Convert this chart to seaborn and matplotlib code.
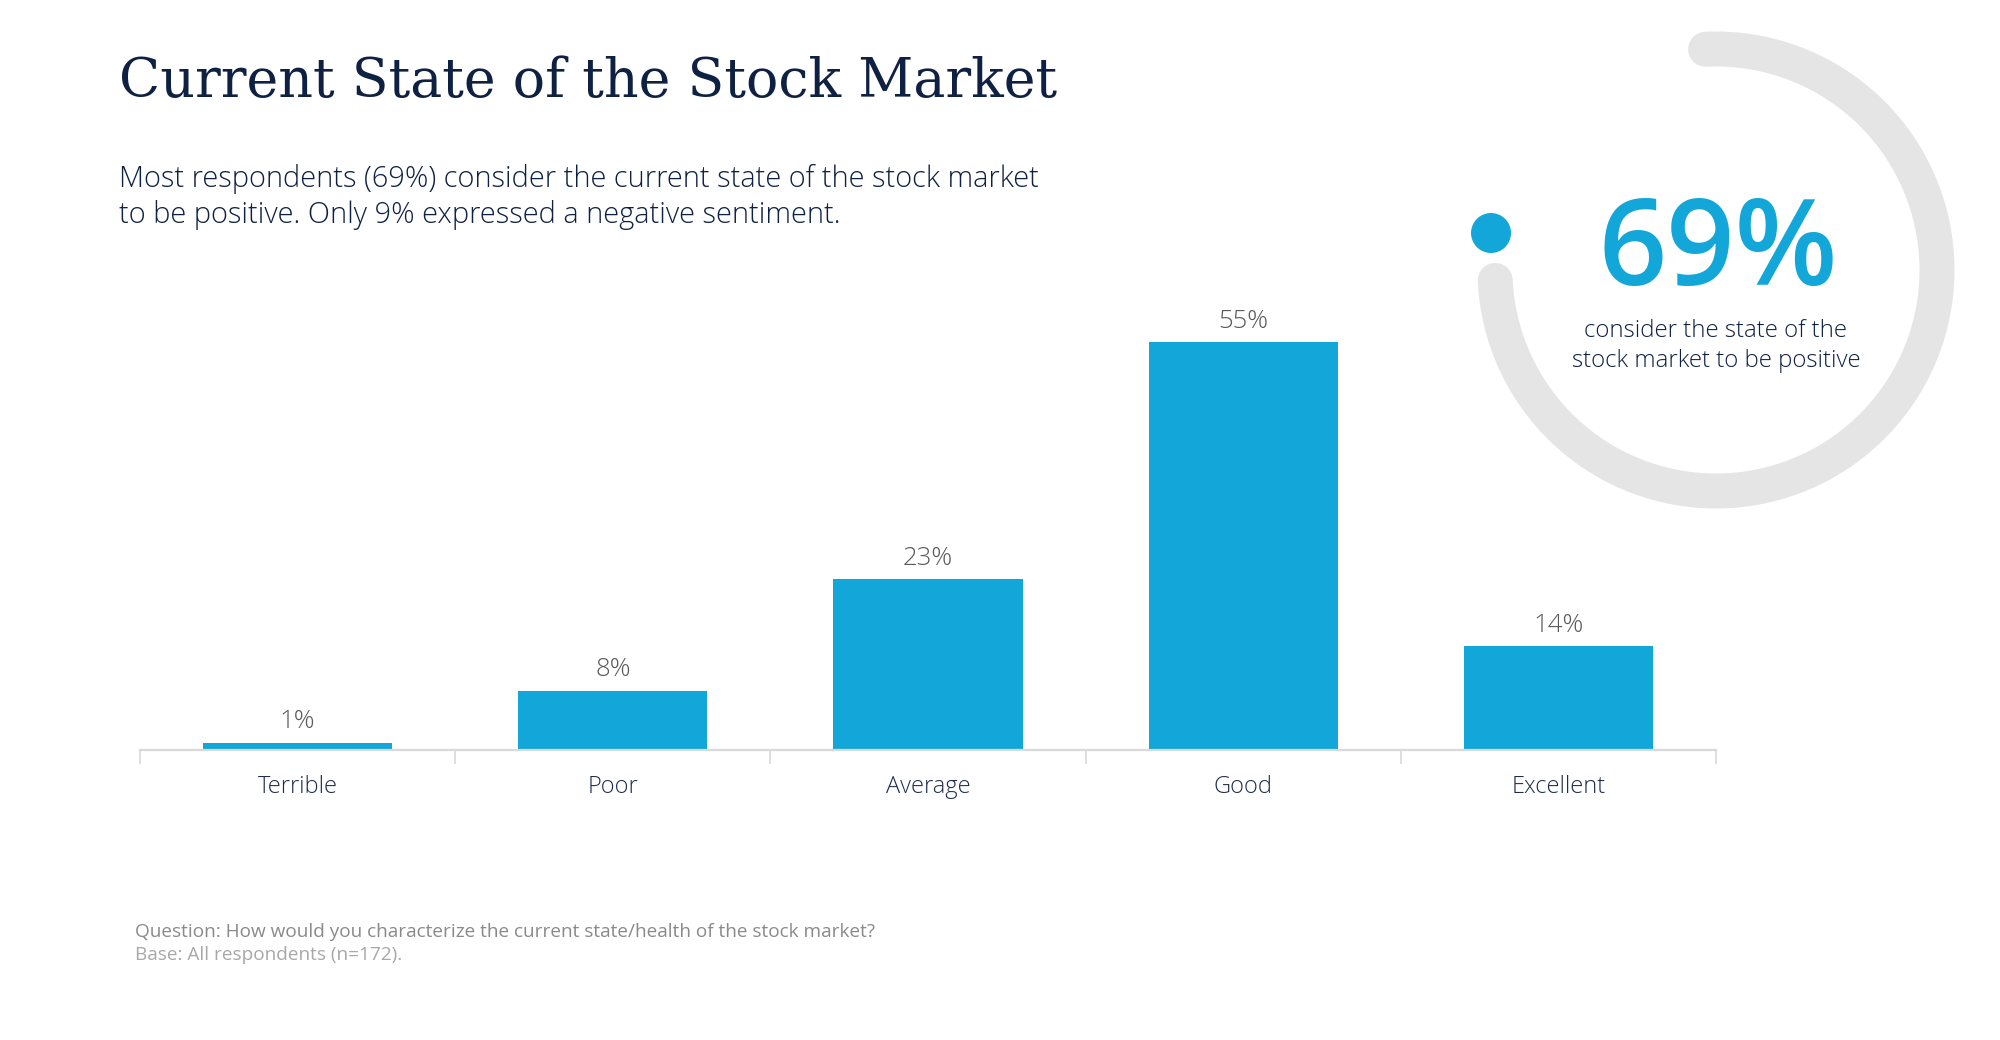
import numpy as np
import pandas as pd
import seaborn as sns
import matplotlib.pyplot as plt
from matplotlib.patches import Circle

# data
categories = ['Terrible', 'Poor', 'Average', 'Good', 'Excellent']
shares = [1, 8, 23, 55, 14]
positive_share = 69

title = 'Current State of the Stock Market'
subtitle_lines = ['Most respondents (69%) consider the current state of the stock market',
                  'to be positive. Only 9% expressed a negative sentiment.']
kpi_caption = 'consider the state of the\nstock market to be positive'
question = 'Question: How would you characterize the current state/health of the stock market?'
base = 'Base: All respondents (n=172).'

navy = '#0f2142'
blue = '#12a6d9'
ring_grey = '#e5e5e5'

sns.set_theme(style='white')
plt.rcParams['font.family'] = ['Open Sans', 'DejaVu Sans']

W, H = 2000, 1040
fig = plt.figure(figsize=(20, 10.4), dpi=100)
fig.patch.set_facecolor('white')

# bar chart
ax = fig.add_axes([0.07, 0.2788, 0.788, 0.428])
df = pd.DataFrame(dict(category=categories, share=shares))
sns.barplot(data=df, x='category', y='share', color=blue, width=0.6,
            saturation=1, ax=ax, edgecolor='none')
ax.set_xlim(-0.5, len(categories) - 0.5)
ax.set_ylim(0, 60)
ax.set(xlabel='', ylabel='', yticks=[])
for s in ('top', 'right', 'left'):
    ax.spines[s].set_visible(False)
ax.spines['bottom'].set_color('#d9d9d9')
ax.spines['bottom'].set_linewidth(1.6)
ax.set_xticks(np.arange(-0.5, len(categories)), minor=True)
ax.tick_params(axis='x', which='minor', bottom=True, length=10, width=1.2, color='#d9d9d9')
ax.tick_params(axis='x', which='major', bottom=False, length=0, pad=18,
               labelsize=17, labelcolor='#1f2d4d')
for lab in ax.get_xticklabels():
    lab.set_fontweight('light')
ax.bar_label(ax.containers[0], labels=[f'{v}%' for v in shares],
             padding=6, fontsize=18.5, color='#595959', fontweight='light')

# donut badge (axes in pixel-like units, centred on the ring)
cx, cy, half = 1716, 270, 260
dax = fig.add_axes([(cx - half) / W, 1 - (cy + half) / H, 2 * half / W, 2 * half / H])
dax.set_xlim(-half, half)
dax.set_ylim(-half, half)
dax.set_aspect('equal')
dax.axis('off')
theta = np.radians(np.linspace(92.7, -177.3, 400))
r = 221
dax.plot(r * np.cos(theta), r * np.sin(theta), color=ring_grey, lw=25.2,
         solid_capstyle='round')
dax.add_patch(Circle((-225, 37), 20, color=blue, lw=0))
dax.text(2, -15, f'{positive_share}%', ha='center', va='baseline', fontsize=86,
         fontweight='semibold', color=blue)
dax.text(0, -76, kpi_caption, ha='center', va='center', fontsize=17.3,
         fontweight='light', color=navy, linespacing=1.3)

# titles and notes
fig.text(119 / W, 1 - 97 / H, title, family=['DejaVu Serif'], fontsize=38.8,
         color=navy, va='baseline', ha='left')
for line, yb in zip(subtitle_lines, (187, 223)):
    fig.text(119 / W, 1 - yb / H, line, fontsize=20.9, fontweight='light',
             color=navy, va='baseline', ha='left')
fig.text(135 / W, 1 - 932 / H, question, fontsize=13.7, color='#8a8a8a',
         va='center', ha='left')
fig.text(135 / W, 1 - 955 / H, base, fontsize=13.7, color='#a8a8a8',
         va='center', ha='left')

fig.savefig('out.png', dpi=100, facecolor='white')
